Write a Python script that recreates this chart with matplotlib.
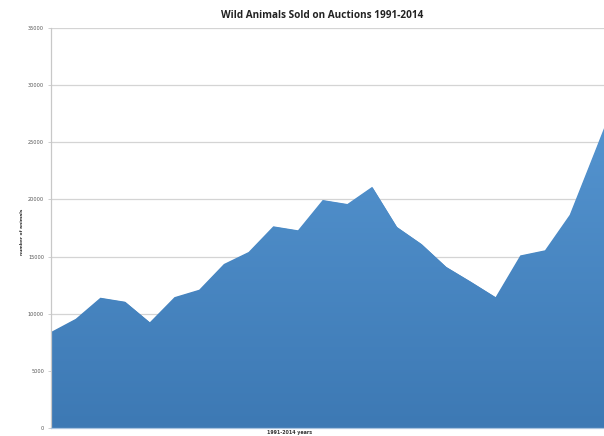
import numpy as np
import matplotlib
matplotlib.use('Agg')
import matplotlib.pyplot as plt
from matplotlib.colors import LinearSegmentedColormap

# data (number of animals per year)
years = list(range(1991, 2015))
animals = [8400, 9550, 11400, 11050, 9250, 11450, 12100, 14350, 15400, 17650,
           17300, 19950, 19600, 21100, 17600, 16100, 14100, 12800, 11450, 15100,
           15550, 18650, 24100, 29600]

y_ticks = [0, 5000, 10000, 15000, 20000, 25000, 30000, 35000]

fig = plt.figure(figsize=(6.04, 4.36), dpi=100)
ax = fig.add_axes([51/604, 1 - 428/436, 1 - 51/604, 400/436])

x = np.array(years, dtype=float)
y = np.array(animals, dtype=float)

# gridlines behind the area
for t in y_ticks[1:]:
    ax.axhline(t, color='#d4d4d4', linewidth=0.9, zorder=0)

# area with vertical gradient (lighter at top, darker at bottom)
poly = ax.fill_between(x, 0, y, color='#4a87c4', linewidth=0, zorder=1)
cmap = LinearSegmentedColormap.from_list('blu', ['#3d79b4', '#5b9cd8'])
grad = np.linspace(0, 1, 256).reshape(-1, 1)
img = ax.imshow(grad, cmap=cmap, origin='lower', aspect='auto',
                extent=[x[0], x[-1], 0, 35000], zorder=2)
img.set_clip_path(poly.get_paths()[0], transform=ax.transData)

ax.set_xlim(1991, 1991 + (604 - 51) / 24.7)
ax.set_ylim(0, 35000)

ax.set_yticks(y_ticks)
ax.set_yticklabels([str(t) for t in y_ticks], fontsize=3.6, color='#555555')
ax.set_xticks([])
ax.tick_params(axis='y', length=2, width=0.6, color='#c8c8c8', pad=3)

for s in ['top', 'right']:
    ax.spines[s].set_visible(False)
ax.spines['left'].set_color('#c8c8c8')
ax.spines['left'].set_linewidth(0.9)
ax.spines['bottom'].set_color('#a9c4e0')
ax.spines['bottom'].set_linewidth(0.9)
ax.spines['bottom'].set_zorder(3)

fig.text(322/604, 1 - 16/436, 'Wild Animals Sold on Auctions 1991-2014',
         ha='center', va='center', fontsize=7.2, fontweight='bold',
         family='Open Sans', color='#222222')
fig.text(22/604, 1 - 232/436, 'number of animals', rotation=90,
         ha='center', va='center', fontsize=3.2, fontweight='bold', color='#333333')
fig.text(290/604, 1 - 432/436, '1991-2014 years',
         ha='center', va='center', fontsize=3.4, fontweight='bold', color='#333333')

plt.savefig('out.png', dpi=100)
